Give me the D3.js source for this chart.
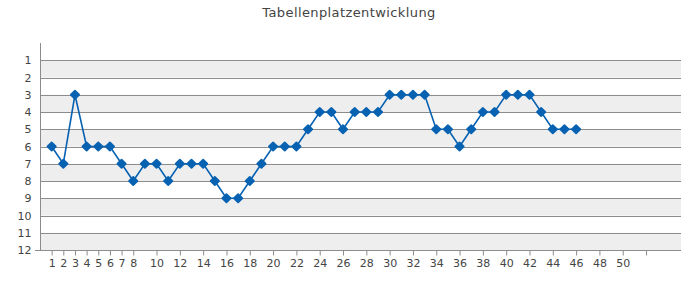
<!DOCTYPE html>
<html>
<head>
<meta charset="utf-8">
<script src="https://cdn.jsdelivr.net/npm/d3@7"></script>
<style>
  body { margin: 0; background: #fff; }
  svg { font-family: "DejaVu Sans", sans-serif; }
</style>
</head>
<body>
<svg id="chart" width="700" height="300"></svg>
<script>
// Spieltag -> Tabellenplatz
const rounds = d3.range(1, 47)
const places = [6, 7, 3, 6, 6, 6, 7, 8, 7, 7, 8, 7, 7, 7, 8, 9, 9, 8, 7, 6,
                6, 6, 5, 4, 4, 5, 4, 4, 4, 3, 3, 3, 3, 5, 5, 6, 5, 4, 4, 3,
                3, 3, 4, 5, 5, 5]
const xTicks = [1, 2, 3, 4, 5, 6, 7, 8, 10, 12, 14, 16, 18, 20, 22, 24, 26, 28, 30,
                32, 34, 36, 38, 40, 42, 44, 46, 48, 50, 52]
const yTicks = d3.range(1, 13)

const margin = { top: 43, left: 40, right: 19, bottom: 50 }
const width = 700 - margin.left - margin.right
const height = 300 - margin.top - margin.bottom

const svg = d3.select('#chart')
const g = svg.append('g')
    .attr('transform', `translate(${margin.left}, ${margin.top})`)

const x = d3.scaleLinear().domain([0, 55]).range([0, width])
const y = d3.scaleLinear().domain([0, 12]).range([0, height])

// title
svg.append('text')
    .attr('x', 349)
    .attr('y', 17)
    .attr('text-anchor', 'middle')
    .attr('font-size', '13px')
    .attr('fill', '#444')
    .attr('letter-spacing', '0.4px')
    .text('Tabellenplatzentwicklung')

// alternating bands
g.selectAll('rect.band')
    .data(yTicks.filter(d => d % 2 === 1))
    .enter().append('rect')
    .attr('class', 'band')
    .attr('x', 0)
    .attr('y', d => y(d))
    .attr('width', width)
    .attr('height', y(1) - y(0))
    .attr('fill', '#eeeeee')

// gridlines
g.selectAll('line.grid')
    .data(yTicks)
    .enter().append('line')
    .attr('class', 'grid')
    .attr('x1', 0)
    .attr('x2', width)
    .attr('y1', d => Math.round(y(d)) + 0.5)
    .attr('y2', d => Math.round(y(d)) + 0.5)
    .attr('stroke', '#8c8c8c')

// y axis
const yAxis = g.append('g')
    .attr('transform', 'translate(0.5, 0)')
    .call(d3.axisLeft(y).tickValues(yTicks).tickSize(0).tickPadding(9))
yAxis.select('.domain').attr('stroke', '#8c8c8c').attr('d', `M0,0V${height}`)
yAxis.selectAll('text').attr('font-size', '11px').attr('fill', '#444')
    .attr('font-family', '"DejaVu Sans", sans-serif')

// x axis
const xAxis = g.append('g')
    .attr('transform', `translate(0, ${Math.round(height) + 0.5})`)
    .call(d3.axisBottom(x).tickValues(xTicks).tickSize(5).tickPadding(4)
        .tickFormat(d => d === 52 ? '' : d))
xAxis.select('.domain').attr('stroke', '#8c8c8c').attr('d', `M-5,0H${width}`)
xAxis.selectAll('.tick line').attr('stroke', '#8c8c8c')
xAxis.selectAll('text').attr('font-size', '11px').attr('fill', '#444')
    .attr('font-family', '"DejaVu Sans", sans-serif')

// line
const line = d3.line()
    .x((d, i) => x(rounds[i]))
    .y(d => y(d))

g.append('path')
    .datum(places)
    .attr('fill', 'none')
    .attr('stroke', '#0862b2')
    .attr('stroke-width', 1.6)
    .attr('d', line)

// markers (rounded diamonds)
g.selectAll('path.marker')
    .data(places)
    .enter().append('path')
    .attr('class', 'marker')
    .attr('d', d3.symbol(d3.symbolSquare, 34)())
    .attr('transform', (d, i) => `translate(${x(rounds[i])}, ${y(d)}) rotate(45)`)
    .attr('fill', '#0862b2')
    .attr('stroke', '#0862b2')
    .attr('stroke-width', 1.8)
    .attr('stroke-linejoin', 'round')
</script>
</body>
</html>
